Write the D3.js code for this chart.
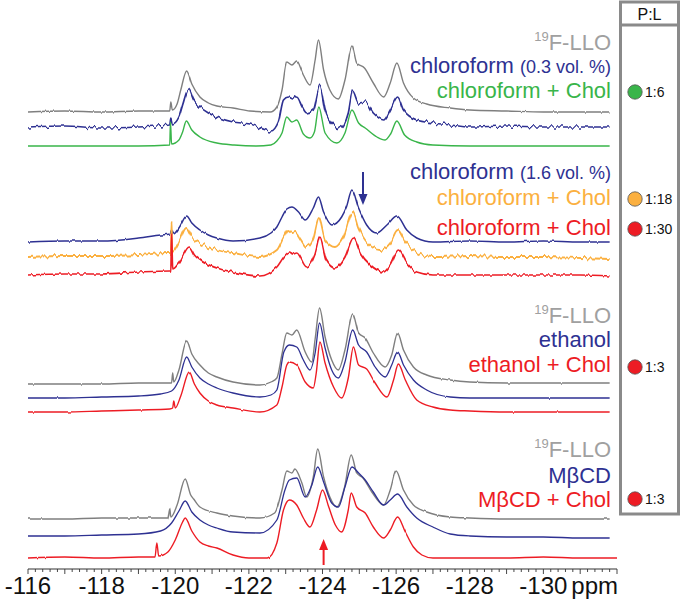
<!DOCTYPE html>
<html><head><meta charset="utf-8">
<script src="https://cdn.jsdelivr.net/npm/d3@7"></script>
<style>body{margin:0;background:#fff}svg{display:block}text{font-family:"Liberation Sans",Arial,Helvetica,sans-serif}</style>
</head><body><svg id="c" width="685" height="600"></svg>
<script>
// ---- data: [ppm, intensity] ----
const g1Gray=[[-116,0],[-117,1],[-118,0],[-119,1],[-119.6,1],[-119.85,1],[-119.88,10],[-119.92,2],[-120.05,8],[-120.15,22],[-120.31,41],[-120.45,28],[-120.67,15],[-120.9,9],[-121.13,6],[-121.57,4],[-122.03,1],[-122.58,0],[-122.76,5],[-122.9,22],[-123.03,50],[-123.17,47],[-123.3,51],[-123.48,37],[-123.66,27],[-123.8,52],[-123.89,72],[-124.03,42],[-124.2,22],[-124.43,13],[-124.61,32],[-124.8,66],[-124.93,49],[-125.14,44],[-125.38,29],[-125.66,15],[-125.84,29],[-126.02,49],[-126.2,29],[-126.47,14],[-126.83,8],[-127.47,4],[-128,2],[-129,1],[-130,0],[-131,0],[-131.8,0]];
const g1Blue=[[-116,0],[-117,1],[-118,-1],[-119,0],[-119.5,1],[-119.85,2],[-119.88,9],[-119.92,3],[-120.1,10],[-120.2,22],[-120.36,38],[-120.5,27],[-120.67,20],[-120.9,14],[-121.13,10],[-121.57,5],[-122.03,3],[-122.6,-4],[-122.8,5],[-122.94,27],[-123.07,30],[-123.2,28],[-123.3,30],[-123.45,20],[-123.57,14],[-123.75,17],[-123.93,41],[-124.07,17],[-124.3,2],[-124.48,-1],[-124.7,14],[-124.82,36],[-124.98,24],[-125.16,25],[-125.38,14],[-125.66,7],[-125.84,17],[-126.04,30],[-126.2,17],[-126.56,7],[-127,4],[-127.47,2],[-128,0],[-129,1],[-130,0],[-131,0],[-131.8,0]];
const g1Green=[[-116,0],[-117,0],[-118,0],[-119,0],[-119.85,1],[-119.87,24],[-119.9,2],[-120.1,6],[-120.2,14],[-120.3,25],[-120.45,16],[-120.67,9],[-121.13,3],[-121.6,1],[-122.2,0],[-122.6,1],[-122.76,5],[-122.9,13],[-123.03,29],[-123.17,24],[-123.3,26],[-123.48,12],[-123.66,8],[-123.78,14],[-123.9,39],[-124.07,13],[-124.39,3],[-124.61,13],[-124.8,36],[-124.98,23],[-125.16,18],[-125.48,9],[-125.7,6],[-125.85,12],[-126.02,25],[-126.23,11],[-126.56,4],[-127,1],[-128,0],[-129,0],[-130,0],[-131,0],[-131.8,0]];
const g2Blue=[[-116,0],[-117,1],[-118,1],[-119,4],[-119.6,7],[-119.85,8],[-119.9,12],[-119.95,8],[-120.1,14],[-120.31,26],[-120.45,19],[-120.67,12],[-120.9,7],[-121.13,4],[-121.57,1],[-122.3,4],[-122.6,9],[-122.76,15],[-122.9,25],[-123.03,33],[-123.17,35],[-123.35,30],[-123.53,22],[-123.75,34],[-123.89,45],[-124.03,30],[-124.25,17],[-124.52,25],[-124.65,35],[-124.8,52],[-124.98,34],[-125.2,17],[-125.47,9],[-125.75,17],[-126.02,26],[-126.29,12],[-126.56,4],[-127,0],[-128,1],[-129,0],[-130,1],[-131,0],[-131.8,0]];
const g2Orange=[[-116,0],[-117,1],[-118,1],[-119,2],[-119.8,4],[-119.88,4],[-119.9,37],[-119.92,5],[-120.1,15],[-120.3,29],[-120.45,20],[-120.67,14],[-121.13,7],[-121.57,4],[-122.3,0],[-122.76,7],[-122.95,20],[-123.07,27],[-123.18,24],[-123.26,25],[-123.4,18],[-123.57,10],[-123.75,19],[-123.9,39],[-124.07,17],[-124.34,10],[-124.57,20],[-124.82,45],[-124.98,29],[-125.2,15],[-125.56,7],[-125.84,14],[-126.04,27],[-126.25,15],[-126.56,5],[-127,0],[-128,1],[-129,0],[-130,0],[-131,-1],[-131.8,-2]];
const g2Red=[[-116,0],[-117,1],[-118,1],[-119,3],[-119.85,4],[-119.88,4],[-119.9,42],[-119.93,6],[-120.1,12],[-120.38,28],[-120.52,20],[-120.67,15],[-121.13,7],[-121.57,3],[-122.3,-1],[-122.76,8],[-122.95,18],[-123.1,23],[-123.2,21],[-123.3,22],[-123.57,8],[-123.8,22],[-123.93,38],[-124.1,15],[-124.34,7],[-124.61,18],[-124.84,37],[-125.03,22],[-125.3,10],[-125.66,3],[-125.84,10],[-126.06,25],[-126.29,12],[-126.56,3],[-127,0],[-128,0],[-129,0],[-130,0],[-131,0],[-131.8,-1]];
const g3Gray=[[-116,0],[-117,0],[-118,0],[-119,1],[-119.8,1],[-119.9,1],[-119.93,11],[-119.96,2],[-120.1,14],[-120.31,43],[-120.45,30],[-120.67,19],[-120.9,11],[-121.13,7],[-121.57,2],[-122.3,-1],[-122.6,2],[-122.76,6],[-122.9,30],[-123.03,51],[-123.17,49],[-123.3,54],[-123.53,32],[-123.71,22],[-123.8,45],[-123.92,76],[-124.07,47],[-124.25,24],[-124.43,14],[-124.61,34],[-124.82,70],[-124.98,51],[-125.16,46],[-125.38,31],[-125.7,17],[-125.88,29],[-126.04,51],[-126.2,34],[-126.47,17],[-126.83,9],[-127.47,4],[-128,2],[-129,1],[-130,1],[-131,1],[-131.8,1]];
const g3Blue=[[-116,0],[-117,0],[-118,1],[-119,2],[-119.6,4],[-119.9,7],[-120.1,18],[-120.31,41],[-120.45,31],[-120.67,20],[-120.9,14],[-121.13,10],[-121.57,5],[-122.3,1],[-122.6,3],[-122.76,8],[-122.95,46],[-123.1,53],[-123.3,51],[-123.48,38],[-123.66,28],[-123.8,45],[-123.92,75],[-124.07,50],[-124.25,28],[-124.43,20],[-124.61,36],[-124.82,68],[-124.98,53],[-125.2,46],[-125.43,31],[-125.7,21],[-125.88,33],[-126.04,46],[-126.2,33],[-126.47,18],[-126.83,8],[-127.47,1],[-128,0],[-129,0],[-130,0],[-131,0],[-131.8,0]];
const g3Red=[[-116,0],[-117,0],[-118,1],[-119,2],[-119.85,3],[-119.93,4],[-119.96,11],[-120.0,4],[-120.15,16],[-120.38,40],[-120.52,28],[-120.67,19],[-120.9,11],[-121.13,7],[-121.57,4],[-122.3,0],[-122.76,7],[-122.9,25],[-123.03,47],[-123.1,50],[-123.3,47],[-123.53,30],[-123.75,24],[-123.83,39],[-123.93,70],[-124.07,49],[-124.3,25],[-124.52,14],[-124.7,34],[-124.84,65],[-124.98,47],[-125.2,43],[-125.43,29],[-125.75,15],[-125.93,32],[-126.06,48],[-126.25,32],[-126.56,12],[-127,5],[-127.47,2],[-128,1],[-129,0],[-130,0],[-131,0],[-131.8,0]];
const g4Gray=[[-116,0],[-117,0],[-118,1],[-119,1],[-119.8,1],[-119.85,11],[-119.88,2],[-120.05,14],[-120.27,40],[-120.42,24],[-120.5,20],[-120.67,12],[-121.13,6],[-121.57,3],[-122.3,1],[-122.7,6],[-122.9,29],[-123.03,48],[-123.17,46],[-123.25,50],[-123.44,36],[-123.57,22],[-123.75,42],[-123.87,70],[-124.03,42],[-124.2,22],[-124.39,12],[-124.6,32],[-124.78,64],[-124.93,46],[-125.1,41],[-125.34,27],[-125.66,14],[-125.84,29],[-126.0,48],[-126.2,29],[-126.47,14],[-126.83,7],[-127.47,2],[-128,1],[-129,0],[-130,0],[-131,0],[-131.8,0]];
const g4Blue=[[-116,1],[-117,1],[-118,2],[-119,3],[-119.6,6],[-119.9,14],[-120.1,26],[-120.27,36],[-120.45,25],[-120.67,17],[-120.9,12],[-121.13,9],[-121.57,5],[-122.3,4],[-122.76,17],[-122.98,47],[-123.1,57],[-123.3,59],[-123.53,40],[-123.71,52],[-123.87,70],[-124.03,55],[-124.25,34],[-124.43,30],[-124.61,50],[-124.8,70],[-124.98,64],[-125.16,57],[-125.38,45],[-125.66,32],[-125.84,37],[-126.04,43],[-126.29,30],[-126.56,19],[-127.0,10],[-127.47,3],[-128,1],[-129,0],[-130,0],[-131,-1],[-131.8,-1]];
const g4Red=[[-116,0],[-117,1],[-118,0],[-119,1],[-119.45,1],[-119.5,15],[-119.55,2],[-119.8,6],[-120.0,18],[-120.2,36],[-120.27,40],[-120.45,27],[-120.67,16],[-120.9,12],[-121.13,10],[-121.57,3],[-122,0],[-122.5,0],[-122.76,15],[-122.94,48],[-123.1,58],[-123.3,53],[-123.48,40],[-123.66,31],[-123.84,48],[-124.0,68],[-124.17,51],[-124.35,33],[-124.52,26],[-124.7,48],[-124.78,65],[-124.93,51],[-125.16,45],[-125.38,31],[-125.66,20],[-125.84,28],[-126.04,41],[-126.25,26],[-126.47,11],[-126.7,3],[-127,0],[-128,0],[-129,0],[-130,1],[-131,0],[-132,0]];

const majorTicks=[-116,-118,-120,-122,-124,-126,-128,-130];
const ratioLabels=["1:6","1:18","1:30","1:3","1:3"];
const ratioColors=["green","orange","red","red","red"];
const arrowPpm=[-125.1,-124.03];

// ---- styles/layout ----
const C={gray:"#7f7f7f",grayText:"#a0a0a0",blue:"#2e3192",green:"#39b54a",orange:"#fbb040",red:"#ed1c24"};
const svg=d3.select("#c");
const defs=svg.append("defs");
const x=d3.scaleLinear().domain([-116,-132]).range([28,617]);
const y=d3.scaleLinear().domain([0,100]).range([0,-100]);

// trace rendering: baseline offset, colour, width, visual noise texture (amplitude, frequency)
const traces=[
 {d:g1Gray,c:C.gray,b:112,w:1.4,n:3,f:0.25},{d:g1Blue,c:C.blue,b:127,w:1.7,n:9,f:0.28},{d:g1Green,c:C.green,b:146,w:1.4,n:2,f:0.25},
 {d:g2Blue,c:C.blue,b:242,w:1.5,n:3,f:0.25},{d:g2Orange,c:C.orange,b:257,w:1.8,n:9,f:0.3},{d:g2Red,c:C.red,b:275,w:1.7,n:6,f:0.3},
 {d:g3Gray,c:C.gray,b:384,w:1.4,n:2.5,f:0.25},{d:g3Blue,c:C.blue,b:398,w:1.3,n:2,f:0.25},{d:g3Red,c:C.red,b:412,w:1.4,n:2.5,f:0.25},
 {d:g4Gray,c:C.gray,b:519,w:1.4,n:2.5,f:0.25},{d:g4Blue,c:C.blue,b:537,w:1.3,n:1.5,f:0.25},{d:g4Red,c:C.red,b:558,w:1.4,n:2,f:0.25}
];
traces.forEach((t,i)=>{
 const f=defs.append("filter").attr("id","nz"+i).attr("filterUnits","userSpaceOnUse")
  .attr("x",0).attr("y",0).attr("width",685).attr("height",600).attr("color-interpolation-filters","sRGB");
 f.append("feTurbulence").attr("type","fractalNoise").attr("baseFrequency",`${t.f} 0.0005`).attr("numOctaves",1).attr("seed",i*7+3).attr("result","n0");
 f.append("feColorMatrix").attr("in","n0").attr("type","matrix")
  .attr("values","1 0 0 0 0  0 0 0 0 0.5  0 0 0 0 0  0 0 0 0 1").attr("result","n");
 f.append("feDisplacementMap").attr("in","SourceGraphic").attr("in2","n").attr("scale",t.n)
  .attr("xChannelSelector","G").attr("yChannelSelector","R");
 const line=d3.line().x(d=>x(d[0])).y(d=>t.b+y(d[1])).curve(d3.curveMonotoneX);
 svg.append("path").attr("d",line(t.d))
  .attr("fill","none").attr("stroke",t.c).attr("stroke-width",t.w).attr("stroke-linejoin","round")
  .attr("filter",`url(#nz${i})`);
});

// arrows
function arrow(px,y0,y1,col){
 const dir=Math.sign(y1-y0);
 svg.append("line").attr("x1",px).attr("x2",px).attr("y1",y0).attr("y2",y1-dir*9).attr("stroke",col).attr("stroke-width",2);
 svg.append("path").attr("d",`M${px-4.5},${y1-dir*11}L${px+4.5},${y1-dir*11}L${px},${y1}Z`).attr("fill",col);
}
arrow(x(arrowPpm[0]),172,205,C.blue);
arrow(x(arrowPpm[1]),565,539,C.red);

// axis
const ax=svg.append("g").attr("transform","translate(0,569)");
ax.append("line").attr("x1",x(-116)).attr("x2",x(-132)).attr("stroke","#333").attr("stroke-width",1.2);
ax.selectAll(".mn").data(x.ticks(80)).enter().append("line").attr("x1",d=>x(d)).attr("x2",d=>x(d)).attr("y1",0).attr("y2",d=>Math.abs(d-Math.round(d))<1e-6?5:3).attr("stroke","#333").attr("stroke-width",0.9);
ax.selectAll(".lb").data(majorTicks).enter().append("text").attr("x",d=>x(d)).attr("y",25).attr("text-anchor","middle")
 .attr("font-size",24).attr("fill","#111").text(d=>String(d));
ax.append("text").attr("x",618).attr("y",25).attr("text-anchor","end").attr("font-size",24).attr("fill","#111").text("ppm");

// labels
function lab(yb,col,parts){
 const t=svg.append("text").attr("x",611).attr("y",yb).attr("text-anchor","end").attr("fill",col);
 parts.forEach(p=>{const s=t.append("tspan").attr("font-size",p.s).text(p.t); if(p.dy)s.attr("dy",p.dy);});
}
const FS=22;
function llo(yb){lab(yb,C.grayText,[{t:"19",s:13,dy:-9},{t:"F-LLO",s:FS,dy:9}]);}
llo(50);
lab(73,C.blue,[{t:"chloroform ",s:FS},{t:"(0.3 vol. %)",s:18}]);
lab(98,C.green,[{t:"chloroform + Chol",s:FS}]);
lab(179,C.blue,[{t:"chloroform ",s:FS},{t:"(1.6 vol. %)",s:18}]);
lab(205,C.orange,[{t:"chloroform + Chol",s:FS}]);
lab(235,C.red,[{t:"chloroform + Chol",s:FS}]);
llo(323);
lab(347,C.blue,[{t:"ethanol",s:FS}]);
lab(372,C.red,[{t:"ethanol + Chol",s:FS}]);
llo(457);
lab(483,C.blue,[{t:"MβCD",s:FS}]);
lab(507,C.red,[{t:"MβCD + Chol",s:FS}]);

// P:L box
svg.append("rect").attr("x",620.5).attr("y",2).attr("width",58).attr("height",512).attr("fill","none").attr("stroke","#8a8a8a").attr("stroke-width",3);
svg.append("line").attr("x1",620.5).attr("x2",678.5).attr("y1",25).attr("y2",25).attr("stroke","#8a8a8a").attr("stroke-width",3);
svg.append("text").attr("x",649.5).attr("y",20).attr("text-anchor","middle").attr("font-size",16).attr("fill","#111").text("P:L");
const dotY=[92,199,229,367,499];
ratioLabels.forEach((l,i)=>{
 svg.append("circle").attr("cx",635).attr("cy",dotY[i]).attr("r",7.2).attr("fill",C[ratioColors[i]]).attr("stroke","#555").attr("stroke-width",0.8);
 svg.append("text").attr("x",645).attr("y",dotY[i]+5).attr("font-size",14).attr("fill","#111").text(l);
});
</script></body></html>
